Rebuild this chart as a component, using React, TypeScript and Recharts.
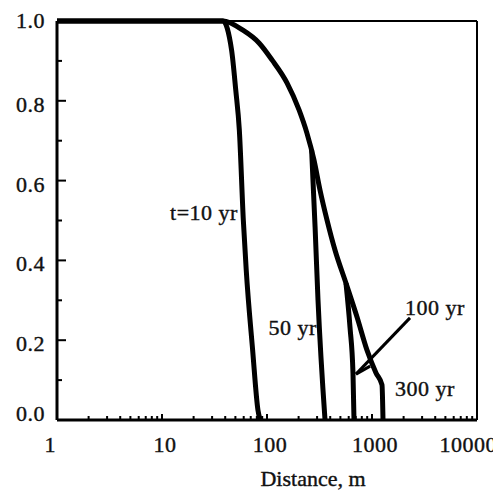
import { LineChart, Line, XAxis, YAxis, ReferenceLine, ReferenceDot } from "recharts";

// distance (m) / relative value pairs
const t10Dist = [1, 38, 46, 50.4, 54.5, 59.5, 63.4, 73, 82, 86];
const t10Val = [1, 1, 0.927, 0.827, 0.727, 0.501, 0.376, 0.175, 0.025, 0];

const t50Dist = [266, 287, 306, 357];
const t50Val = [0.677, 0.484, 0.301, 0];

const t100Dist = [565, 617, 659, 674];
const t100Val = [0.343, 0.233, 0.118, 0];

// the 300 yr curve is also the upper envelope of the others
const t300Dist = [1, 38, 59, 84, 112, 155, 202, 240, 280, 320, 373, 444, 565, 720, 896, 1092, 1245, 1273];
const t300Val = [1, 1, 0.977, 0.945, 0.902, 0.845, 0.777, 0.719, 0.652, 0.576, 0.501, 0.426, 0.343, 0.258, 0.175, 0.118, 0.088, 0];

const xTicks = [1, 10, 100, 1000, 10000];
const xMinorTicks = [1, 10, 100, 1000].flatMap((d) => [2, 3, 4, 5, 6, 7, 8, 9].map((m) => m * d));
const yTicks = [0, 0.2, 0.4, 0.6, 0.8, 1.0];
const yMinorTicks = [0.1, 0.3, 0.5, 0.7, 0.9];

const curveLabels = ["t=10 yr", "50 yr", "100 yr", "300 yr"];
const labelDist = [52.9, 299, 2062, 1656];
const labelVal = [0.521, 0.231, 0.283, 0.08];
const labelAnchor = ["end", "end", "start", "start"];

const toRows = (xs: number[], ys: number[]) => xs.map((d, i) => ({ d, v: ys[i] }));

const FONT = "'Liberation Serif', 'Times New Roman', serif";
const textStyle = {
  fontFamily: FONT,
  fontSize: 22,
  letterSpacing: 0.5,
  fill: "#111",
  stroke: "#111",
  strokeWidth: 0.4,
};

function YTick({ x, y, payload }: any) {
  const v = payload.value;
  const axisX = x + 12;
  const major = yTicks.includes(v);
  let dy = 11;
  if (v === 0) dy = 1;
  if (v === 1) dy = 7;
  return (
    <g>
      <line x1={axisX} x2={axisX + (major ? 9 : 5)} y1={y} y2={y} stroke="#000" strokeWidth={2} />
      {major && (
        <text x={x} y={y + dy} textAnchor="end" style={textStyle}>
          {v.toFixed(1)}
        </text>
      )}
    </g>
  );
}

function XTick({ x, y, payload }: any) {
  const v = payload.value;
  const axisY = y - 8;
  const major = xTicks.includes(v);
  let tx = x + 3;
  let anchor = "middle";
  if (v === 1) {
    tx = x - 1;
    anchor = "end";
  }
  if (v === 10000) {
    tx = x + 20;
    anchor = "end";
  }
  return (
    <g>
      <line x1={x} x2={x} y1={axisY} y2={axisY - (major ? 6 : 4)} stroke="#000" strokeWidth={2} />
      {major && (
        <text x={tx} y={axisY + 32} textAnchor={anchor} style={textStyle}>
          {v}
        </text>
      )}
    </g>
  );
}

function AxisTitle({ viewBox }: any) {
  return (
    <text x={viewBox.x + 256} y={viewBox.y + 66} textAnchor="middle" style={{ ...textStyle, letterSpacing: 0 }}>
      Distance, m
    </text>
  );
}

function CurveLabel({ viewBox, text, anchor }: any) {
  return (
    <text x={viewBox.x + 1} y={viewBox.y + 8.5} textAnchor={anchor} style={textStyle}>
      {text}
    </text>
  );
}

const series = [
  { key: "t10", rows: toRows(t10Dist, t10Val) },
  { key: "t50", rows: toRows(t50Dist, t50Val) },
  { key: "t100", rows: toRows(t100Dist, t100Val) },
  { key: "t300", rows: toRows(t300Dist, t300Val) },
];

export default function App() {
  return (
    <LineChart width={493} height={482} margin={{ top: 13, right: 24, left: 0, bottom: 0 }}>
      <XAxis
        dataKey="d"
        type="number"
        scale="log"
        domain={[1, 10000]}
        allowDataOverflow
        ticks={[...xTicks, ...xMinorTicks]}
        interval={0}
        tickSize={0}
        tickMargin={8}
        tick={<XTick />}
        height={70}
        axisLine={{ stroke: "#000", strokeWidth: 3 }}
        label={<AxisTitle />}
      />
      <YAxis
        type="number"
        domain={[0, 1]}
        ticks={[...yTicks, ...yMinorTicks]}
        interval={0}
        tickSize={0}
        tickMargin={12}
        tick={<YTick />}
        width={49}
        axisLine={{ stroke: "#000", strokeWidth: 3 }}
      />
      <ReferenceLine y={1} stroke="#000" strokeWidth={2} />
      <ReferenceLine x={10000} stroke="#000" strokeWidth={2} />
      {series.map((s) => (
        <Line
          key={s.key}
          data={s.rows}
          dataKey="v"
          type="monotoneX"
          stroke="#000"
          strokeWidth={5}
          strokeLinejoin="round"
          dot={false}
          activeDot={false}
          isAnimationActive={false}
        />
      ))}
      <ReferenceLine
        segment={[
          { x: 2301, y: 0.256 },
          { x: 704, y: 0.115 },
        ]}
        stroke="#000"
        strokeWidth={3}
      />
      <ReferenceLine
        segment={[
          { x: 704, y: 0.115 },
          { x: 960, y: 0.135 },
        ]}
        stroke="#000"
        strokeWidth={3}
      />
      {curveLabels.map((text, i) => (
        <ReferenceDot
          key={text}
          x={labelDist[i]}
          y={labelVal[i]}
          r={1}
          fill="none"
          stroke="none"
          label={<CurveLabel text={text} anchor={labelAnchor[i]} />}
        />
      ))}
    </LineChart>
  );
}
